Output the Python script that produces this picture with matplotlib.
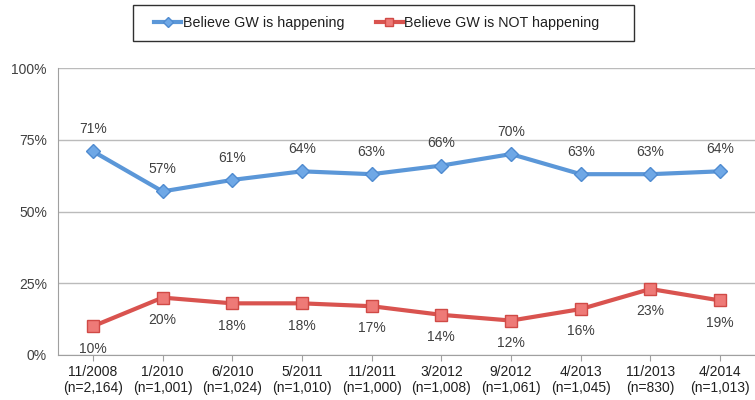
import matplotlib.pyplot as plt
from matplotlib.patches import Rectangle
import numpy as np

plt.rcParams['font.family'] = ['Liberation Sans', 'DejaVu Sans']

dates = ['11/2008', '1/2010', '6/2010', '5/2011', '11/2011',
         '3/2012', '9/2012', '4/2013', '11/2013', '4/2014']
samples = ['n=2,164', 'n=1,001', 'n=1,024', 'n=1,010', 'n=1,000',
           'n=1,008', 'n=1,061', 'n=1,045', 'n=830', 'n=1,013']
happening = [71, 57, 61, 64, 63, 66, 70, 63, 63, 64]
not_happening = [10, 20, 18, 18, 17, 14, 12, 16, 23, 19]

blue = '#5B97D8'
red = '#D9534F'
txt = '#404040'

W, H = 755, 400
fig = plt.figure(figsize=(7.55, 4.0), dpi=100)
ax = fig.add_axes([58 / W, 0.1125, 1 - 58 / W, 0.7175])

x = np.arange(len(dates))
ax.plot(x, happening, color=blue, lw=3, marker='D', ms=7,
        mfc='#6FA8E6', mec='#4F8BD0', label='Believe GW is happening')
ax.plot(x, not_happening, color=red, lw=3, marker='s', ms=8,
        mfc='#EE7A77', mec='#D04A46', label='Believe GW is NOT happening')

for i in x:
    ax.annotate(f'{happening[i]}%', (i, happening[i]), xytext=(0, 11),
                textcoords='offset points', ha='center', va='bottom',
                fontsize=10, color=txt)
    ax.annotate(f'{not_happening[i]}%', (i, not_happening[i]), xytext=(0, -11),
                textcoords='offset points', ha='center', va='top',
                fontsize=10, color=txt)

ax.set_xlim(-0.5, len(dates) - 0.5)
ax.set_ylim(0, 100)
ax.set_yticks([0, 25, 50, 75, 100])
ax.set_yticklabels(['0%', '25%', '50%', '75%', '100%'])
ax.set_xticks(x)
ax.set_xticklabels([f'{d}\n({s})' for d, s in zip(dates, samples)])
ax.tick_params(axis='y', length=0, pad=8, labelsize=10, labelcolor=txt)
ax.tick_params(axis='x', length=4, color='#A0A0A0', pad=3, labelsize=10,
               labelcolor='#202020')
ax.grid(axis='y', color='#BBBBBB', lw=1)
ax.set_axisbelow(True)
for s in ['top', 'right']:
    ax.spines[s].set_visible(False)
for s in ['left', 'bottom']:
    ax.spines[s].set_color('#A0A0A0')

# legend box drawn separately so it can be wider than the entries
fig.patches.append(Rectangle((133 / W, 1 - 41 / H), 501 / W, 36 / H,
                             transform=fig.transFigure, fill=False,
                             edgecolor='#303030', lw=1))
leg = fig.legend(loc='center', bbox_to_anchor=(377 / W, 1 - 23 / H),
                 ncol=2, frameon=False, fontsize=10.3,
                 handlelength=1.9, handletextpad=0.1, columnspacing=2.2,
                 borderpad=0, borderaxespad=0, markerscale=0.7)
for t in leg.get_texts():
    t.set_color('#202020')

fig.savefig('out.png', dpi=100)
